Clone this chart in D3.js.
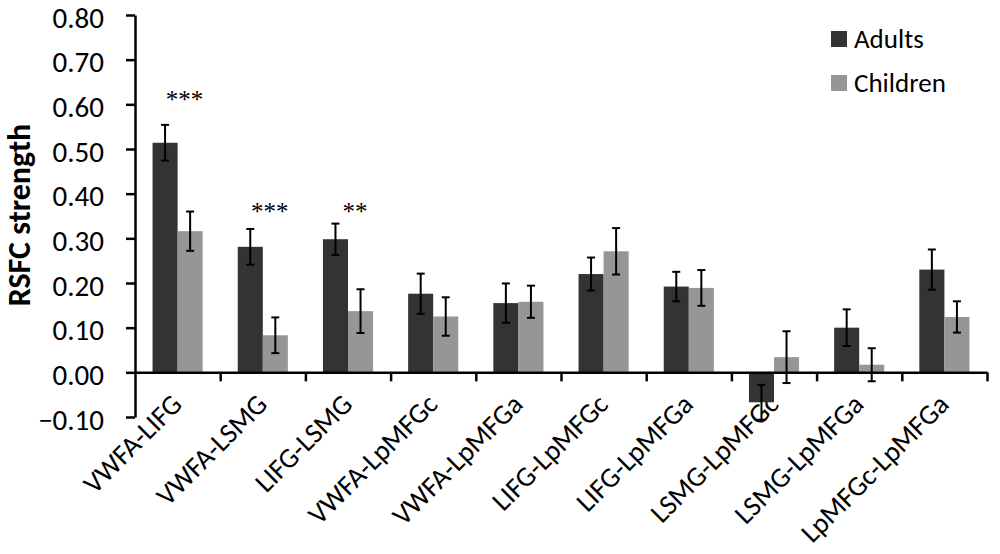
<!DOCTYPE html>
<html>
<head>
<meta charset="utf-8">
<script src="https://cdn.jsdelivr.net/npm/d3@7"></script>
<style>
  body { margin: 0; background: #fff; }
  #chart { width: 1000px; height: 554px; }
  text { font-family: Carlito, Lato, "Open Sans", sans-serif; fill: #000; }
  .axis path, .axis line { stroke: #000; stroke-width: 2.5; }
</style>
</head>
<body>
<div id="chart"></div>
<script>
// data
const pairs = ["VWFA-LIFG", "VWFA-LSMG", "LIFG-LSMG", "VWFA-LpMFGc", "VWFA-LpMFGa",
               "LIFG-LpMFGc", "LIFG-LpMFGa", "LSMG-LpMFGc", "LSMG-LpMFGa", "LpMFGc-LpMFGa"];
const groups = ["Adults", "Children"];
const adults = [0.514, 0.281, 0.298, 0.176, 0.155, 0.220, 0.192, -0.067, 0.100, 0.230];
const adultsErr = [0.040, 0.040, 0.035, 0.045, 0.044, 0.037, 0.033, 0.039, 0.041, 0.045];
const children = [0.316, 0.083, 0.137, 0.125, 0.158, 0.271, 0.189, 0.034, 0.017, 0.124];
const childrenErr = [0.044, 0.040, 0.049, 0.043, 0.036, 0.052, 0.040, 0.058, 0.037, 0.035];
const stars = ["***", "***", "**", "", "", "", "", "", "", ""];
const starLevel = [0.61, 0.36, 0.36, 0, 0, 0, 0, 0, 0, 0];
const yTicks = [-0.10, 0.00, 0.10, 0.20, 0.30, 0.40, 0.50, 0.60, 0.70, 0.80];
const colors = ["#333333", "#969696"];

const width = 1000, height = 554;
const margin = { top: 15, left: 135, right: 13, bottom: 137 };

const svg = d3.select("#chart")
    .append("svg")
    .attr("width", width)
    .attr("height", height);

const rows = pairs.map(function(p, i) {
    return {
        pair: p,
        values: [
            { group: "Adults", v: adults[i], e: adultsErr[i] },
            { group: "Children", v: children[i], e: childrenErr[i] }
        ]
    };
});

// scales
const xScale = d3.scaleBand()
    .domain(pairs)
    .range([margin.left, width - margin.right])
    .padding(0);

const xSub = d3.scaleBand()
    .domain(groups)
    .range([0, xScale.bandwidth()])
    .paddingInner(0)
    .paddingOuter(0.7);

const yScale = d3.scaleLinear()
    .domain([-0.1, 0.8])
    .range([height - margin.bottom, margin.top]);

const color = d3.scaleOrdinal().domain(groups).range(colors);

// category labels (drawn first, bars and error bars sit on top)
svg.selectAll(".xlab")
    .data(pairs)
    .enter()
    .append("text")
    .attr("class", "xlab")
    .attr("text-anchor", "end")
    .attr("transform", function(d) {
        return `translate(${xScale(d) + xScale.bandwidth() / 2 + 6},${yScale(-0.1) - 11}) rotate(-45)`;
    })
    .style("font-size", "28px")
    .text(function(d) { return d; });

// bars
const g = svg.selectAll(".grp")
    .data(rows)
    .enter()
    .append("g")
    .attr("class", "grp")
    .attr("transform", function(d) { return `translate(${xScale(d.pair)},0)`; });

g.selectAll("rect")
    .data(function(d) { return d.values; })
    .enter()
    .append("rect")
    .attr("x", function(d) { return xSub(d.group); })
    .attr("width", xSub.bandwidth())
    .attr("y", function(d) { return yScale(Math.max(0, d.v)); })
    .attr("height", function(d) { return Math.abs(yScale(d.v) - yScale(0)); })
    .attr("fill", function(d) { return color(d.group); });

// error bars
const eb = g.selectAll(".err")
    .data(function(d) { return d.values; })
    .enter()
    .append("g")
    .attr("class", "err")
    .attr("stroke", "#000")
    .attr("stroke-width", 2);

eb.append("line")
    .attr("x1", function(d) { return xSub(d.group) + xSub.bandwidth() / 2; })
    .attr("x2", function(d) { return xSub(d.group) + xSub.bandwidth() / 2; })
    .attr("y1", function(d) { return yScale(d.v + d.e); })
    .attr("y2", function(d) { return yScale(d.v - d.e); });

[1, -1].forEach(function(s) {
    eb.append("line")
        .attr("x1", function(d) { return xSub(d.group) + xSub.bandwidth() / 2 - 4; })
        .attr("x2", function(d) { return xSub(d.group) + xSub.bandwidth() / 2 + 4; })
        .attr("y1", function(d) { return yScale(d.v + s * d.e); })
        .attr("y2", function(d) { return yScale(d.v + s * d.e); });
});

// significance stars
svg.selectAll(".star")
    .data(pairs.filter(function(p, i) { return stars[i] !== ""; }))
    .enter()
    .append("text")
    .attr("class", "star")
    .attr("x", function(d) { return xScale(d) + xScale.bandwidth() / 2 + 7; })
    .attr("y", function(d) { return yScale(starLevel[pairs.indexOf(d)]) + 8; })
    .attr("text-anchor", "middle")
    .style("font-family", "'Liberation Serif', serif")
    .style("font-size", "25px")
    .text(function(d) { return stars[pairs.indexOf(d)]; });

// y axis
const yAxis = svg.append("g")
    .attr("class", "axis")
    .attr("transform", `translate(${margin.left},0)`)
    .call(d3.axisLeft(yScale)
        .tickValues(yTicks)
        .tickFormat(d3.format(".2f"))
        .tickSize(9)
        .tickSizeOuter(0)
        .tickPadding(22));
yAxis.selectAll("text")
    .style("font-size", "29px")
    .attr("dy", "0.42em");

// x axis at zero, ticks on category boundaries
const xEdges = d3.scaleLinear()
    .domain([0, pairs.length])
    .range([margin.left, width - margin.right]);

svg.append("g")
    .attr("class", "axis")
    .attr("transform", `translate(0,${yScale(0)})`)
    .call(d3.axisBottom(xEdges)
        .tickValues(d3.range(1, pairs.length + 1))
        .tickFormat("")
        .tickSize(9)
        .tickSizeOuter(0));

// y axis title
svg.append("text")
    .attr("transform", "rotate(-90)")
    .attr("x", -215)
    .attr("y", 30)
    .attr("text-anchor", "middle")
    .style("font-size", "32px")
    .style("font-weight", "bold")
    .text("RSFC strength");

// legend
const legend = svg.selectAll(".legend")
    .data(groups)
    .enter()
    .append("g")
    .attr("class", "legend")
    .attr("transform", function(d, i) { return `translate(831,${31 + i * 44})`; });

legend.append("rect")
    .attr("width", 16)
    .attr("height", 16)
    .attr("fill", function(d) { return color(d); });

legend.append("text")
    .attr("x", 23)
    .attr("y", 17)
    .style("font-size", "27px")
    .text(function(d) { return d; });
</script>
</body>
</html>
